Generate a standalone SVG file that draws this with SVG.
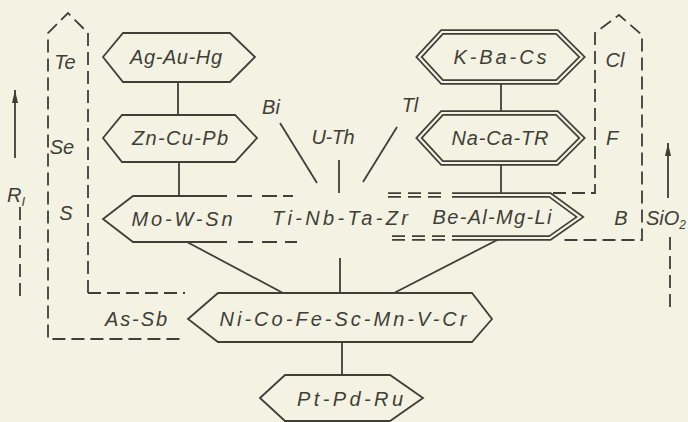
<svg xmlns="http://www.w3.org/2000/svg" width="688" height="422" viewBox="0 0 688 422">
<defs>
<style>
.ln{fill:none;stroke:#403f36;stroke-width:1.8;stroke-linecap:butt;stroke-linejoin:miter}
.ds{fill:none;stroke:#403f36;stroke-width:1.8;stroke-dasharray:13 6}
.hx{fill:#f4f2e3;stroke:#403f36;stroke-width:1.8;stroke-linejoin:miter}
.dbo{fill:#f4f2e3;stroke:#403f36;stroke-width:5.6;stroke-linejoin:miter}
.dbi{fill:none;stroke:#f4f2e3;stroke-width:2.2;stroke-linejoin:miter}
.dbo2{fill:none;stroke:#403f36;stroke-width:5.6;stroke-linejoin:miter}
text{font-family:"Liberation Sans","DejaVu Sans",sans-serif;font-style:italic;font-size:20px;fill:#403f36;text-anchor:middle}
</style>
<marker id="ah" markerUnits="userSpaceOnUse" markerWidth="13" markerHeight="6" viewBox="0 0 13 6" refX="13" refY="3" orient="auto">
<path d="M0,0 L13,3 L0,6 z" fill="#403f36"/>
</marker>
</defs>
<rect width="688" height="422" fill="#f4f2e3"/>

<g id="boundaries">
<path class="ds" d="M88,293 V33 L68,13 L48,33 V339 H185"/>
<path class="ds" d="M88,293 H185"/>
<path class="ds" d="M553,193 H595 V33 L619,15 L642,35 V240 H563"/>
</g>

<g id="connectors">
<path class="ln" d="M178,82 V115"/>
<path class="ln" d="M179,162 V196"/>
<path class="ln" d="M501,82 V113"/>
<path class="ln" d="M501,163 V193"/>
<path class="ln" d="M187,242 L283,293"/>
<path class="ln" d="M501,238 L394,293"/>
<path class="ln" d="M340,258 V293"/>
<path class="ln" d="M342,342 V375"/>
<path class="ln" d="M280,123 L317,183"/>
<path class="ln" d="M339,160 V193"/>
<path class="ln" d="M397,127 L363,182"/>
<path class="ln" d="M15,158 V90" marker-end="url(#ah)"/>
<path class="ds" d="M20,207 V297"/>
<path class="ln" d="M668,198 V143" marker-end="url(#ah)"/>
<path class="ds" d="M670,237 V313"/>
</g>

<g id="ag-au-hg">
<polygon class="hx" points="103,57 123,33 230,33 255,57 230,82 123,82"/>
<text x="176" y="64" textLength="92" lengthAdjust="spacing">Ag-Au-Hg</text>
</g>
<g id="zn-cu-pb">
<polygon class="hx" points="103,138 122,115 235,115 257,138 235,162 122,162"/>
<text x="180" y="145" textLength="96" lengthAdjust="spacing">Zn-Cu-Pb</text>
</g>
<g id="k-ba-cs">
<polygon class="dbo" points="419,57 442,32 557,32 582,57 557,82 442,82"/>
<polygon class="dbi" points="419,57 442,32 557,32 582,57 557,82 442,82"/>
<text x="500" y="64" textLength="93" lengthAdjust="spacing">K-Ba-Cs</text>
</g>
<g id="na-ca-tr">
<polygon class="dbo" points="419,138 442,113 557,113 582,138 557,163 442,163"/>
<polygon class="dbi" points="419,138 442,113 557,113 582,138 557,163 442,163"/>
<text x="500" y="145" textLength="97" lengthAdjust="spacing">Na-Ca-TR</text>
</g>

<g id="mo-w-sn">
<path class="ln" d="M227,196 H133 L103,219 L133,242 H227"/>
<path class="ln" d="M237,196 H252 M262,196 H277 M283,196 H293"/>
<path class="ln" d="M238,242 H253 M262,242 H277 M285,242 H297"/>
<text x="182" y="226" textLength="101" lengthAdjust="spacing">Mo-W-Sn</text>
</g>
<g id="ti-nb-ta-zr">
<text x="340" y="225" textLength="136" lengthAdjust="spacing">Ti-Nb-Ta-Zr</text>
</g>
<g id="be-al-mg-li">
<path class="dbo2" d="M388,195 H401 M408,195 H421 M428,195 H441 M392,238 H405 M412,238 H425 M432,238 H445"/>
<path class="dbi" d="M386,195 H456 M390,238 H456"/>
<path class="dbo2" d="M452,195 H550 L580,217 L550,238 H452"/>
<path class="dbi" d="M450,195 H550 L580,217 L550,238 H450"/>
<text x="492" y="224" textLength="119" lengthAdjust="spacing">Be-Al-Mg-Li</text>
</g>

<g id="ni-co-fe-sc-mn-v-cr">
<polygon class="hx" points="188,319 218,293 472,293 492,319 472,342 218,342"/>
<text x="343" y="326" textLength="247" lengthAdjust="spacing">Ni-Co-Fe-Sc-Mn-V-Cr</text>
</g>
<g id="pt-pd-ru">
<polygon class="hx" points="260,398 285,375 390,375 423,398 390,421 285,421"/>
<text x="350" y="406" textLength="106" lengthAdjust="spacing">Pt-Pd-Ru</text>
</g>

<g id="labels">
<text x="65" y="69">Te</text>
<text x="62" y="154">Se</text>
<text x="66" y="220">S</text>
<text x="136" y="326" textLength="62" lengthAdjust="spacing">As-Sb</text>
<text x="271" y="114">Bi</text>
<text x="333" y="144" textLength="43" lengthAdjust="spacing">U-Th</text>
<text x="410" y="112">Tl</text>
<text x="615" y="67">Cl</text>
<text x="612" y="145">F</text>
<text x="621" y="225">B</text>
<text x="666" y="225">SiO<tspan dy="4" font-size="12">2</tspan></text>
<text x="16" y="202">R<tspan dy="4" font-size="13">I</tspan></text>
</g>
</svg>
